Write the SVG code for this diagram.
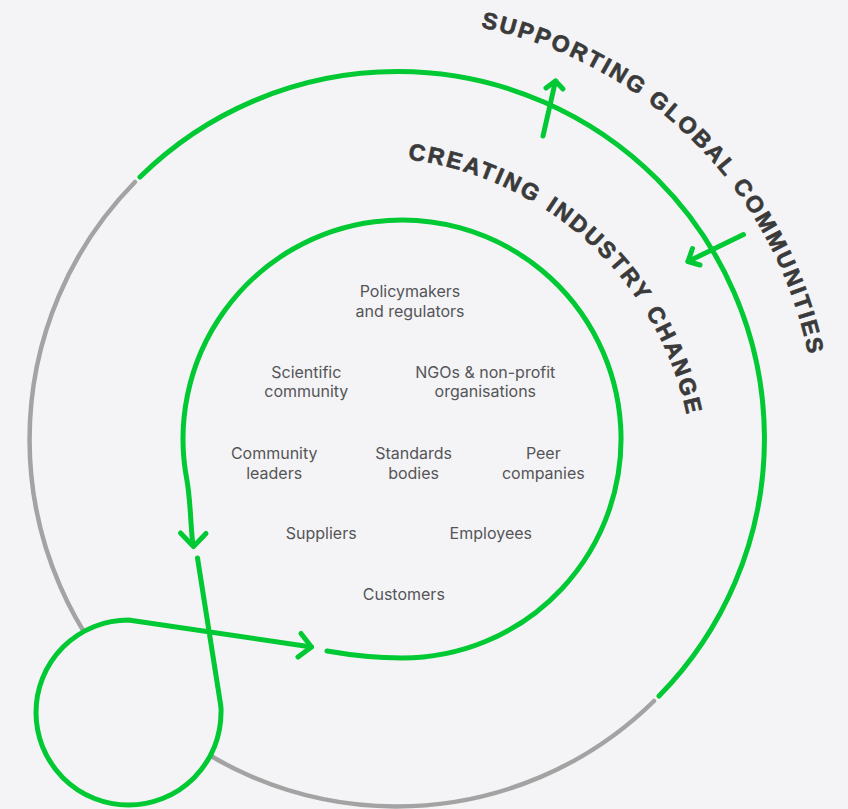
<svg xmlns="http://www.w3.org/2000/svg" width="848" height="809" viewBox="0 0 848 809">
  <style>
    .green { fill: none; stroke: #00c933; stroke-width: 5; stroke-linecap: round; stroke-linejoin: round; }
    .gray { fill: none; stroke: #a3a3a3; stroke-width: 4.5; stroke-linecap: round; }
    .label { font-family: Inter, "Liberation Sans", sans-serif; font-size: 16px; fill: #555558; text-anchor: middle; }
    .ring-title { font-family: "Liberation Sans", Arial, sans-serif; font-weight: 700; font-size: 23px; fill: #3a3a3a; stroke: #3a3a3a; stroke-width: 0.7; stroke-linejoin: round; letter-spacing: 2.3px; }
  </style>
  <defs>
    <path id="outerTextPath" d="M480.7,27.4 A420,420 0 0 1 815.4,402.4"/>
    <path id="innerTextPath" d="M407.7,159.4 A326,326 0 0 1 692.8,454.6"/>
  </defs>
  <rect x="0" y="0" width="848" height="809" fill="#f4f4f6"/>

  <g id="outer-ring">
    <path class="gray" d="M654,701 A367,367 0 0 1 135,182"/>
    <path class="green" d="M140,177 A367,367 0 0 1 659,696"/>
  </g>

  <g id="small-circle-mask">
    <circle cx="128.5" cy="712.5" r="92.5" fill="#f4f4f6"/>
  </g>

  <g id="connectors">
    <path class="green" d="M327,651 C350,655 375,658 402,658 A219,219 0 1 0 186.9,480 C190.6,499.6 190.7,530 193,545"/>
    <polyline class="green" points="180.5,533 193.5,546.5 206,533.5"/>
    <path class="green" d="M197.5,558 L220.5,704 Q221.3,709 221,712.5 A92.5,92.5 0 1 1 128.5,620 L311.5,647"/>
    <polyline class="green" points="301,633.5 311.5,647 298,657"/>
    <path class="green" d="M543,136 L555.5,81"/>
    <polyline class="green" points="546,88 555.5,81 563,89"/>
    <path class="green" d="M743.5,234.5 L688,261.5"/>
    <polyline class="green" points="692.5,248.5 688,261.5 700,265"/>
  </g>

  <g id="title-supporting">
    <text class="ring-title"><textPath href="#outerTextPath" startOffset="0">SUPPORTING</textPath></text>
    <text class="ring-title"><textPath href="#outerTextPath" startOffset="183.8">GLOBAL</textPath></text>
    <text class="ring-title"><textPath href="#outerTextPath" startOffset="303.4">COMMUNITIES</textPath></text>
  </g>
  <g id="title-creating">
    <text class="ring-title"><textPath href="#innerTextPath" startOffset="0">CREATING</textPath></text>
    <text class="ring-title"><textPath href="#innerTextPath" startOffset="147.2">INDUSTRY</textPath></text>
    <text class="ring-title"><textPath href="#innerTextPath" startOffset="291.9">CHANGE</textPath></text>
  </g>

  <g id="node-policymakers"><text class="label"><tspan x="410" y="297.3">Policymakers</tspan><tspan x="410" dy="19.5">and regulators</tspan></text></g>
  <g id="node-scientific"><text class="label"><tspan x="306.3" y="377.5">Scientific</tspan><tspan x="306.3" dy="19.5">community</tspan></text></g>
  <g id="node-ngos"><text class="label"><tspan x="485.3" y="377.5">NGOs &amp; non-profit</tspan><tspan x="485.3" dy="19.5">organisations</tspan></text></g>
  <g id="node-community-leaders"><text class="label"><tspan x="274.2" y="459.3">Community</tspan><tspan x="274.2" dy="19.5">leaders</tspan></text></g>
  <g id="node-standards"><text class="label"><tspan x="413.6" y="459.3">Standards</tspan><tspan x="413.6" dy="19.5">bodies</tspan></text></g>
  <g id="node-peer"><text class="label"><tspan x="543.3" y="459.3">Peer</tspan><tspan x="543.3" dy="19.5">companies</tspan></text></g>
  <g id="node-suppliers"><text class="label" x="321.2" y="539.3">Suppliers</text></g>
  <g id="node-employees"><text class="label" x="490.8" y="539.3">Employees</text></g>
  <g id="node-customers"><text class="label" x="403.8" y="600">Customers</text></g>
</svg>
